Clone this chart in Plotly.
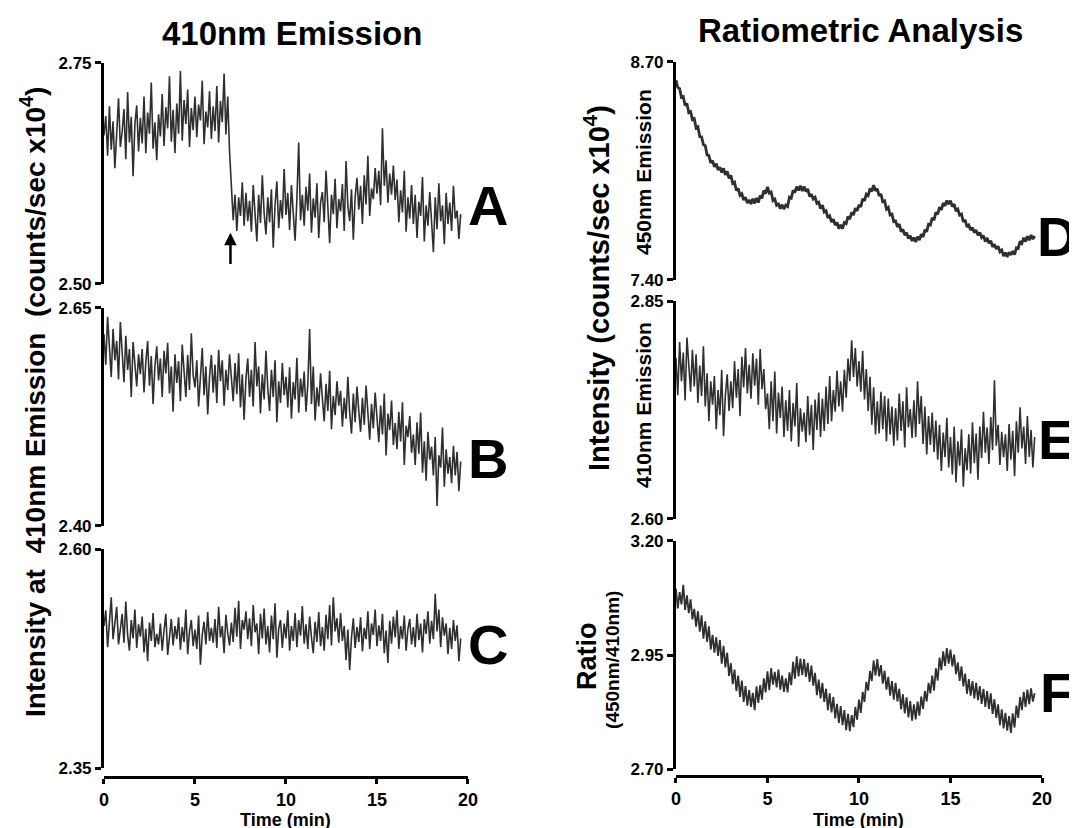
import plotly.graph_objects as go

# sampling grid (min), one sample every 0.1 min up to 19.6
TIME = [round(0.1 * i, 1) for i in range(197)]

# A: 410nm emission, step drop at ~7 min
emis_a = [
    2.668, 2.690, 2.645, 2.701, 2.652, 2.684, 2.631, 2.679, 2.710, 2.655,
    2.672, 2.698, 2.641, 2.717, 2.660, 2.689, 2.622, 2.681, 2.702, 2.650,
    2.688, 2.659, 2.712, 2.648, 2.694, 2.670, 2.728, 2.653, 2.683, 2.640,
    2.692, 2.667, 2.715, 2.656, 2.700, 2.676, 2.735, 2.661, 2.697, 2.648,
    2.704, 2.670, 2.741, 2.662, 2.708, 2.681, 2.720, 2.655, 2.699, 2.674,
    2.712, 2.666, 2.703, 2.685, 2.730, 2.658, 2.695, 2.677, 2.718, 2.664,
    2.701, 2.673, 2.724, 2.660, 2.707, 2.683, 2.738, 2.669, 2.712, 2.650,
    2.612, 2.572, 2.601, 2.560, 2.598, 2.577, 2.615, 2.566, 2.603, 2.571,
    2.594, 2.559, 2.612, 2.574, 2.548, 2.601, 2.569, 2.623, 2.580, 2.556,
    2.598, 2.570, 2.607, 2.541, 2.589, 2.616, 2.563, 2.595, 2.574, 2.630,
    2.578, 2.603, 2.561, 2.612, 2.585, 2.549, 2.596, 2.660, 2.572, 2.601,
    2.566, 2.610, 2.583, 2.625, 2.558, 2.597, 2.575, 2.614, 2.552, 2.592,
    2.604, 2.570, 2.628, 2.586, 2.546, 2.601, 2.579, 2.619, 2.563, 2.596,
    2.582, 2.613, 2.560, 2.639, 2.588, 2.571, 2.607, 2.550, 2.598, 2.620,
    2.584, 2.611, 2.568, 2.623, 2.590, 2.645, 2.577, 2.608, 2.596, 2.631,
    2.602, 2.628, 2.589, 2.676, 2.611, 2.640, 2.592, 2.625, 2.601, 2.634,
    2.595, 2.618, 2.570, 2.606, 2.581, 2.628, 2.559, 2.598, 2.574, 2.612,
    2.568, 2.601, 2.552, 2.593, 2.577, 2.621, 2.548, 2.589, 2.566, 2.604,
    2.575, 2.536, 2.598, 2.562, 2.614, 2.571, 2.589, 2.545, 2.603, 2.568,
    2.592, 2.560, 2.611, 2.574, 2.583, 2.551, 2.579,
]

# B: 410nm emission, slow decline
emis_b = [
    2.620, 2.585, 2.640, 2.598, 2.571, 2.626, 2.590, 2.612, 2.568, 2.634,
    2.596, 2.565, 2.618, 2.579, 2.603, 2.548, 2.611, 2.584, 2.560, 2.597,
    2.574, 2.603, 2.553, 2.588, 2.612, 2.561, 2.595, 2.540, 2.583, 2.606,
    2.567, 2.592, 2.548, 2.601, 2.575, 2.610, 2.552, 2.583, 2.531, 2.597,
    2.564, 2.589, 2.543, 2.608, 2.571, 2.548, 2.596, 2.556, 2.621, 2.573,
    2.559, 2.590, 2.537, 2.578, 2.604, 2.550, 2.583, 2.528, 2.571, 2.596,
    2.553, 2.585, 2.541, 2.602, 2.566, 2.590, 2.538, 2.579, 2.556, 2.597,
    2.565, 2.543, 2.587, 2.551, 2.598, 2.536, 2.574, 2.522, 2.569, 2.592,
    2.548, 2.579, 2.537, 2.611, 2.560, 2.583, 2.529, 2.574, 2.545, 2.601,
    2.558, 2.532, 2.579, 2.548, 2.590, 2.519, 2.566, 2.541, 2.587, 2.550,
    2.571, 2.536, 2.582, 2.523, 2.565, 2.545, 2.593, 2.530, 2.569, 2.548,
    2.577, 2.531, 2.562, 2.626, 2.540, 2.583, 2.521, 2.559, 2.537, 2.575,
    2.546, 2.520, 2.563, 2.532, 2.578, 2.511, 2.549, 2.527, 2.566, 2.538,
    2.555, 2.514, 2.547, 2.523, 2.571, 2.530, 2.506, 2.552, 2.519, 2.560,
    2.532, 2.508, 2.547, 2.516, 2.561, 2.525, 2.499, 2.540, 2.512, 2.553,
    2.521, 2.496, 2.538, 2.505, 2.552, 2.481, 2.529, 2.510, 2.544, 2.493,
    2.518, 2.488, 2.531, 2.497, 2.542, 2.470, 2.515, 2.502, 2.526, 2.484,
    2.505, 2.470, 2.519, 2.483, 2.530, 2.461, 2.497, 2.452, 2.508, 2.476,
    2.491, 2.458, 2.502, 2.423, 2.481, 2.467, 2.513, 2.445, 2.488, 2.460,
    2.479, 2.449, 2.492, 2.458, 2.485, 2.440, 2.474,
]

# C: 410nm emission, flat
emis_c = [
    2.512, 2.530, 2.488, 2.521, 2.545, 2.497, 2.518, 2.534, 2.491, 2.509,
    2.526, 2.493, 2.540, 2.502, 2.484, 2.519, 2.498, 2.531, 2.487, 2.514,
    2.500, 2.523, 2.482, 2.509, 2.472, 2.516, 2.495, 2.527, 2.488, 2.503,
    2.491, 2.515, 2.484, 2.507, 2.526, 2.479, 2.501, 2.520, 2.490, 2.512,
    2.497, 2.522, 2.485, 2.511, 2.494, 2.531, 2.480, 2.506, 2.519, 2.489,
    2.508, 2.486, 2.524, 2.468, 2.502, 2.517, 2.491, 2.528, 2.495, 2.510,
    2.493, 2.520, 2.487, 2.534, 2.499, 2.512, 2.481, 2.525, 2.504, 2.490,
    2.516, 2.494, 2.533, 2.500, 2.541, 2.486, 2.519, 2.508, 2.529, 2.497,
    2.521, 2.489, 2.536, 2.505, 2.515, 2.480, 2.526, 2.498, 2.532, 2.491,
    2.512, 2.482, 2.524, 2.497, 2.538, 2.476, 2.509, 2.519, 2.487, 2.515,
    2.498, 2.530, 2.484, 2.512, 2.495, 2.527, 2.488, 2.519, 2.501, 2.535,
    2.492, 2.514, 2.486, 2.523, 2.499, 2.481, 2.517, 2.494, 2.528, 2.489,
    2.511, 2.484, 2.525, 2.497, 2.536, 2.490, 2.545, 2.506, 2.521, 2.493,
    2.527, 2.495, 2.512, 2.473, 2.508, 2.462, 2.499, 2.521, 2.487, 2.511,
    2.494, 2.522, 2.483, 2.510, 2.497, 2.529, 2.486, 2.515, 2.502, 2.531,
    2.489, 2.513, 2.495, 2.526, 2.481, 2.507, 2.470, 2.518, 2.492, 2.523,
    2.499, 2.530, 2.486, 2.512, 2.497, 2.524, 2.484, 2.509, 2.520, 2.491,
    2.511, 2.488, 2.526, 2.496, 2.515, 2.482, 2.520, 2.503, 2.529, 2.492,
    2.518, 2.497, 2.549, 2.506, 2.531, 2.488, 2.522, 2.501, 2.515, 2.480,
    2.510, 2.486, 2.519, 2.495, 2.513, 2.472, 2.498,
]

# D: 450nm emission
emis_d = [
    8.592, 8.548, 8.541, 8.489, 8.493, 8.441, 8.452, 8.398, 8.404, 8.356,
    8.362, 8.307, 8.314, 8.255, 8.253, 8.207, 8.201, 8.146, 8.142, 8.098,
    8.112, 8.075, 8.094, 8.056, 8.073, 8.041, 8.066, 8.027, 8.048, 8.006,
    8.024, 7.976, 7.984, 7.934, 7.946, 7.905, 7.914, 7.877, 7.893, 7.858,
    7.878, 7.853, 7.884, 7.857, 7.889, 7.862, 7.903, 7.887, 7.934, 7.915,
    7.955, 7.918, 7.925, 7.874, 7.882, 7.846, 7.853, 7.825, 7.849, 7.823,
    7.846, 7.838, 7.894, 7.888, 7.934, 7.922, 7.957, 7.934, 7.962, 7.931,
    7.958, 7.927, 7.943, 7.898, 7.912, 7.883, 7.893, 7.857, 7.864, 7.826,
    7.847, 7.806, 7.813, 7.771, 7.782, 7.746, 7.762, 7.727, 7.743, 7.706,
    7.728, 7.706, 7.742, 7.736, 7.779, 7.763, 7.804, 7.787, 7.828, 7.812,
    7.848, 7.836, 7.884, 7.872, 7.912, 7.903, 7.945, 7.928, 7.966, 7.932,
    7.944, 7.902, 7.913, 7.867, 7.872, 7.823, 7.833, 7.788, 7.793, 7.748,
    7.752, 7.717, 7.733, 7.688, 7.702, 7.668, 7.683, 7.647, 7.664, 7.633,
    7.653, 7.627, 7.658, 7.638, 7.673, 7.657, 7.699, 7.688, 7.733, 7.728,
    7.771, 7.757, 7.803, 7.792, 7.834, 7.818, 7.859, 7.842, 7.874, 7.852,
    7.873, 7.838, 7.852, 7.811, 7.822, 7.787, 7.793, 7.747, 7.758, 7.716,
    7.727, 7.698, 7.712, 7.683, 7.697, 7.666, 7.684, 7.653, 7.665, 7.629,
    7.651, 7.619, 7.634, 7.597, 7.613, 7.585, 7.601, 7.568, 7.578, 7.543,
    7.563, 7.538, 7.566, 7.549, 7.572, 7.551, 7.592, 7.588, 7.631, 7.619,
    7.652, 7.629, 7.661, 7.637, 7.668, 7.644, 7.662,
]

# E: 410nm emission (ratiometric run)
emis_e = [
    2.785, 2.742, 2.803, 2.758, 2.791, 2.736, 2.808, 2.769, 2.746, 2.794,
    2.752, 2.789, 2.733, 2.776, 2.741, 2.798, 2.729, 2.767, 2.712, 2.758,
    2.731, 2.764, 2.703, 2.748, 2.719, 2.771, 2.695, 2.742, 2.766, 2.724,
    2.758, 2.727, 2.781, 2.739, 2.772, 2.718, 2.786, 2.751, 2.796, 2.744,
    2.777, 2.738, 2.790, 2.753, 2.784, 2.731, 2.795, 2.749, 2.772, 2.726,
    2.744, 2.703, 2.758, 2.712, 2.769, 2.698, 2.745, 2.716, 2.752, 2.694,
    2.736, 2.701, 2.748, 2.689, 2.733, 2.706, 2.756, 2.683, 2.727, 2.700,
    2.722, 2.688, 2.741, 2.696, 2.731, 2.679, 2.737, 2.702, 2.745, 2.694,
    2.738, 2.701, 2.752, 2.709, 2.764, 2.712, 2.748, 2.723, 2.770, 2.729,
    2.758, 2.723, 2.771, 2.739, 2.784, 2.758, 2.805, 2.763, 2.796, 2.752,
    2.781, 2.746, 2.793, 2.737, 2.772, 2.724, 2.763, 2.708, 2.751, 2.697,
    2.735, 2.698, 2.746, 2.703, 2.741, 2.689, 2.738, 2.697, 2.729, 2.684,
    2.727, 2.690, 2.744, 2.701, 2.735, 2.682, 2.751, 2.705, 2.726, 2.693,
    2.736, 2.694, 2.758, 2.709, 2.741, 2.686, 2.729, 2.674, 2.718, 2.685,
    2.722, 2.677, 2.713, 2.668, 2.708, 2.655, 2.699, 2.671, 2.716, 2.659,
    2.694, 2.651, 2.706, 2.642, 2.689, 2.661, 2.703, 2.637, 2.681, 2.656,
    2.697, 2.652, 2.711, 2.664, 2.698, 2.645, 2.706, 2.670, 2.723, 2.676,
    2.705, 2.663, 2.717, 2.679, 2.759, 2.684, 2.708, 2.662, 2.700, 2.671,
    2.697, 2.655, 2.709, 2.668, 2.701, 2.649, 2.712, 2.676, 2.728, 2.681,
    2.706, 2.663, 2.718, 2.671, 2.702, 2.659, 2.694,
]

# F: ratio 450nm/410nm
ratio_f = [
    3.095, 3.052, 3.088, 3.061, 3.104, 3.049, 3.081, 3.042, 3.072, 3.028,
    3.051, 3.012, 3.046, 3.001, 3.037, 2.986, 3.024, 2.979, 3.013, 2.962,
    2.994, 2.955, 2.989, 2.948, 2.983, 2.931, 2.970, 2.923, 2.955, 2.904,
    2.932, 2.886, 2.918, 2.871, 2.905, 2.858, 2.894, 2.847, 2.882, 2.839,
    2.873, 2.836, 2.867, 2.829, 2.881, 2.845, 2.884, 2.852, 2.899, 2.868,
    2.914, 2.873, 2.921, 2.885, 2.913, 2.879, 2.918, 2.874, 2.905, 2.869,
    2.899, 2.868, 2.912, 2.884, 2.935, 2.898, 2.947, 2.903, 2.942, 2.906,
    2.941, 2.902, 2.933, 2.891, 2.927, 2.883, 2.911, 2.862, 2.896, 2.855,
    2.889, 2.847, 2.876, 2.829, 2.866, 2.824, 2.858, 2.811, 2.843, 2.801,
    2.838, 2.796, 2.829, 2.785, 2.821, 2.783, 2.818, 2.792, 2.836, 2.808,
    2.852, 2.823, 2.869, 2.847, 2.891, 2.872, 2.915, 2.893, 2.938, 2.905,
    2.941, 2.903, 2.928, 2.887, 2.916, 2.874, 2.902, 2.861, 2.893, 2.852,
    2.889, 2.848, 2.876, 2.831, 2.864, 2.822, 2.857, 2.813, 2.849, 2.806,
    2.842, 2.809, 2.848, 2.817, 2.859, 2.832, 2.871, 2.848, 2.889, 2.866,
    2.905, 2.872, 2.921, 2.894, 2.944, 2.917, 2.958, 2.926, 2.965, 2.931,
    2.962, 2.925, 2.951, 2.908, 2.934, 2.893, 2.925, 2.881, 2.909, 2.865,
    2.897, 2.861, 2.893, 2.855, 2.889, 2.851, 2.882, 2.843, 2.876, 2.836,
    2.871, 2.832, 2.866, 2.821, 2.853, 2.812, 2.842, 2.796, 2.831, 2.789,
    2.823, 2.784, 2.816, 2.779, 2.822, 2.791, 2.839, 2.812, 2.858, 2.829,
    2.869, 2.836, 2.874, 2.842, 2.877, 2.848, 2.866,
]

y_ranges = [(2.50, 2.75), (2.40, 2.65), (2.35, 2.60), (7.40, 8.70), (2.60, 2.85), (2.70, 3.20)]
y_ticks = [[2.50, 2.75], [2.40, 2.65], [2.35, 2.60], [7.40, 8.70], [2.60, 2.85], [2.70, 2.95, 3.20]]
time_ticks = [0, 5, 10, 15, 20]
panel_letters = ["A", "B", "C", "D", "E", "F"]

FONT = "Liberation Sans, Arial, sans-serif"

series = [emis_a, emis_b, emis_c, emis_d, emis_e, ratio_f]
line_w = [1.6, 1.6, 1.6, 2.8, 1.6, 1.8]

# page body has an 8px margin, so boxes are shifted up/left by 8px
x_left = [0.0891, 0.4271]
x_right = [0.6202, 0.9601]
y_doms = [[0.6667, 0.9336], [0.3744, 0.6377], [0.0821, 0.3466],
          [0.6715, 0.9348], [0.3829, 0.6461], [0.0809, 0.3563]]

fig = go.Figure()
layout = {}
for i, vals in enumerate(series):
    n = i + 1
    sfx = "" if n == 1 else str(n)
    fig.add_trace(go.Scatter(x=TIME, y=vals, mode="lines",
                             line=dict(color="rgba(10,10,10,0.85)", width=line_w[i]),
                             xaxis="x" + sfx, yaxis="y" + sfx,
                             showlegend=False, hoverinfo="skip"))
    bottom = n in (3, 6)
    xa = dict(domain=x_left if n <= 3 else x_right, range=[0, 20],
              showgrid=False, zeroline=False, fixedrange=True, automargin=False)
    if bottom:
        xa.update(anchor="free", position=0.0713 if n == 3 else 0.0725,
                  showline=True, linewidth=3, linecolor="black",
                  ticks="outside", ticklen=5, tickwidth=2.5, tickcolor="black",
                  tickvals=time_ticks, ticktext=[str(t) for t in time_ticks],
                  tickfont=dict(family=FONT, size=18, color="black", weight="bold"))
    else:
        xa.update(anchor="y" + sfx, visible=False)
    lo, hi = y_ranges[i]
    ya = dict(domain=y_doms[i], range=[lo, hi], anchor="x" + sfx,
              showgrid=False, zeroline=False, fixedrange=True, automargin=False,
              showline=True, linewidth=3, linecolor="black",
              ticks="outside", ticklen=6, tickwidth=2.5, tickcolor="black",
              tickvals=y_ticks[i], ticktext=["%.2f" % v for v in y_ticks[i]],
              tickfont=dict(family=FONT, size=17, color="black", weight="bold"))
    layout["xaxis" + sfx] = xa
    layout["yaxis" + sfx] = ya

annots = []
def note(text, x, y, size, angle=0, xref="paper"):
    annots.append(dict(text=text, x=x, y=y, xref=xref, yref="paper",
                       showarrow=False, textangle=angle, xanchor="center", yanchor="middle",
                       font=dict(family=FONT, size=size, color="black")))

note("<b>410nm Emission</b>", 0.2637, 0.9698, 33)
note("<b>Ratiometric Analysis</b>", 0.7911, 0.9734, 33)
note("<b>Intensity at&nbsp; 410nm Emission&nbsp; (counts/sec x10<sup>4</sup>)</b>", 0.0232, 0.5242, 28, -90)
note("<b>Intensity (counts/sec x10<sup>4</sup>)</b>", 0.5469, 0.6618, 29, -90)
note("<b>450nm Emission</b>", 0.5896, 0.8019, 21, -90)
note("<b>410nm Emission</b>", 0.5896, 0.5205, 21, -90)
note("<b>Ratio</b>", 0.5376, 0.2174, 27, -90)
note("<b>(450nm/410nm)</b>", 0.5617, 0.2126, 19, -90)
note("<b>Time (min)</b>", 10, 0.0190, 18, xref="x3")
note("<b>Time (min)</b>", 10, 0.0190, 18, xref="x6")

letter_pos = [(0.4457, 0.7609), (0.4457, 0.4565), (0.4457, 0.2307),
              (0.9740, 0.7246), (0.9740, 0.4783), (0.9740, 0.1739)]
for letter, (lx, ly) in zip(panel_letters, letter_pos):
    note("<b>%s</b>" % letter, lx, ly, 56)

# arrow marking the addition time in panel A
annots.append(dict(x=6.95, y=2.558, xref="x", yref="y",
                   ax=6.95, ay=2.521, axref="x", ayref="y",
                   showarrow=True, arrowhead=2, arrowsize=1, arrowwidth=2.5,
                   arrowcolor="black", text=""))

fig.update_layout(**layout)
fig.update_layout(width=1077, height=828, margin=dict(l=0, r=0, t=0, b=0),
                  paper_bgcolor="white", plot_bgcolor="white",
                  annotations=annots, showlegend=False)

fig.write_html("out.html")
